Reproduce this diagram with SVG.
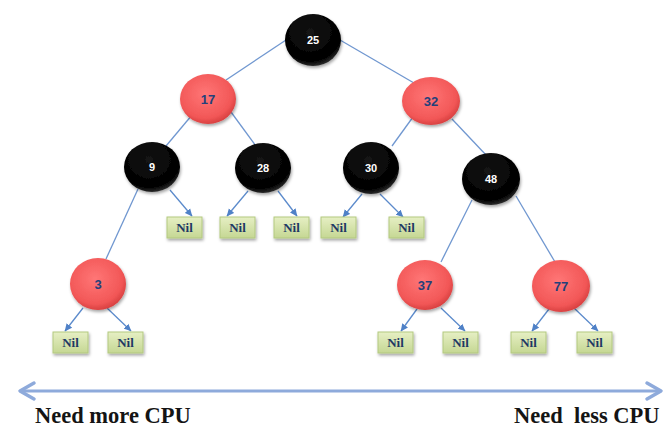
<svg xmlns="http://www.w3.org/2000/svg" width="667" height="428" viewBox="0 0 667 428">
<defs>
<radialGradient id="gRed" cx="45%" cy="40%" r="60%">
<stop offset="0" stop-color="#ff7676"/>
<stop offset="0.8" stop-color="#f25757"/>
<stop offset="1" stop-color="#d94141"/>
</radialGradient>
<radialGradient id="gBlack" cx="45%" cy="35%" r="65%">
<stop offset="0" stop-color="#141414"/>
<stop offset="0.85" stop-color="#000"/>
<stop offset="1" stop-color="#2a2a2a"/>
</radialGradient>
<linearGradient id="gNil" x1="0" y1="0" x2="0" y2="1">
<stop offset="0" stop-color="#e6efc4"/>
<stop offset="1" stop-color="#c5d793"/>
</linearGradient>
<filter id="sh" x="-30%" y="-30%" width="160%" height="170%">
<feDropShadow dx="1" dy="2" stdDeviation="1.5" flood-color="#000" flood-opacity="0.35"/>
</filter>
<marker id="ah" markerWidth="8" markerHeight="8" refX="7" refY="4" orient="auto" markerUnits="userSpaceOnUse">
<path d="M0,0.5 L7.5,4 L0,7.5 Z" fill="#4f81c7"/>
</marker>
</defs>
<style>
.edge{stroke:#7097d0;stroke-width:1.3;fill:none}
.arr{stroke:#5b8acb;stroke-width:1.3;fill:none;marker-end:url(#ah)}
.red{fill:url(#gRed);filter:url(#sh)}
.blk{fill:url(#gBlack);filter:url(#sh)}
.nil rect{fill:url(#gNil);stroke:#b3c980;stroke-width:1;filter:url(#sh)}
.tw{font-family:"Liberation Sans",Arial,sans-serif;font-weight:bold;font-size:11px;fill:#fff;text-anchor:middle}
.tr{font-family:"Liberation Sans",Arial,sans-serif;font-weight:bold;font-size:13px;fill:#24407a;text-anchor:middle}
.tn{font-family:"Liberation Serif","Times New Roman",serif;font-weight:bold;font-size:13px;fill:#1f3864;text-anchor:middle}
.big{font-family:"Liberation Serif","Times New Roman",serif;font-weight:bold;font-size:22.5px;fill:#141414;white-space:pre}
</style>
<g id="connectors">
<line class="edge" x1="286" y1="40" x2="226" y2="80"/>
<line class="edge" x1="340" y1="40" x2="414" y2="83"/>
<line class="edge" x1="192" y1="115" x2="166" y2="146"/>
<line class="edge" x1="231" y1="112" x2="256" y2="146"/>
<line class="edge" x1="413" y1="117" x2="392" y2="146"/>
<line class="edge" x1="452" y1="119" x2="486" y2="155"/>
<line class="edge" x1="138" y1="189" x2="106" y2="259"/>
<line class="edge" x1="472" y1="200" x2="441" y2="262"/>
<line class="edge" x1="516" y1="196" x2="555" y2="262"/>
<line class="arr" x1="170" y1="190" x2="192" y2="216"/>
<line class="arr" x1="248" y1="191" x2="227" y2="216"/>
<line class="arr" x1="278" y1="191" x2="297" y2="216"/>
<line class="arr" x1="362" y1="194" x2="343" y2="217"/>
<line class="arr" x1="380" y1="194" x2="403" y2="217"/>
<line class="arr" x1="83" y1="308" x2="65" y2="331"/>
<line class="arr" x1="107" y1="308" x2="131" y2="331"/>
<line class="arr" x1="417" y1="309" x2="401" y2="331"/>
<line class="arr" x1="441" y1="308" x2="465" y2="331"/>
<line class="arr" x1="549" y1="309" x2="532" y2="331"/>
<line class="arr" x1="574" y1="308" x2="598" y2="331"/>
</g>
<g id="n25"><ellipse class="blk" cx="313" cy="40" rx="28" ry="26"/><text class="tw" x="313" y="44">25</text></g>
<g id="n17"><ellipse class="red" cx="208" cy="99" rx="28" ry="25"/><text class="tr" x="208" y="104">17</text></g>
<g id="n32"><ellipse class="red" cx="431" cy="101" rx="29" ry="24"/><text class="tr" x="431" y="106">32</text></g>
<g id="n9"><ellipse class="blk" cx="152" cy="167" rx="28" ry="25"/><text class="tw" x="152" y="171">9</text></g>
<g id="n28"><ellipse class="blk" cx="263" cy="168" rx="28" ry="25"/><text class="tw" x="263" y="172">28</text></g>
<g id="n30"><ellipse class="blk" cx="371" cy="168" rx="28" ry="26"/><text class="tw" x="371" y="172">30</text></g>
<g id="n48"><ellipse class="blk" cx="491" cy="179" rx="29" ry="26"/><text class="tw" x="491" y="183">48</text></g>
<g id="n3"><ellipse class="red" cx="98" cy="284" rx="28" ry="26"/><text class="tr" x="98" y="289">3</text></g>
<g id="n37"><ellipse class="red" cx="425" cy="285" rx="28" ry="25"/><text class="tr" x="425" y="290">37</text></g>
<g id="n77"><ellipse class="red" cx="561" cy="286" rx="29" ry="26"/><text class="tr" x="561" y="291">77</text></g>
<g id="nil1" class="nil"><rect x="167" y="217" width="35" height="21"/><text class="tn" x="184.5" y="232">Nil</text></g>
<g id="nil2" class="nil"><rect x="220" y="217" width="35" height="21"/><text class="tn" x="237.5" y="232">Nil</text></g>
<g id="nil3" class="nil"><rect x="274" y="217" width="35" height="21"/><text class="tn" x="291.5" y="232">Nil</text></g>
<g id="nil4" class="nil"><rect x="321" y="217" width="35" height="21"/><text class="tn" x="338.5" y="232">Nil</text></g>
<g id="nil5" class="nil"><rect x="389" y="217" width="35" height="21"/><text class="tn" x="406.5" y="232">Nil</text></g>
<g id="nil6" class="nil"><rect x="53" y="332" width="35" height="21"/><text class="tn" x="70.5" y="347">Nil</text></g>
<g id="nil7" class="nil"><rect x="108" y="332" width="35" height="21"/><text class="tn" x="125.5" y="347">Nil</text></g>
<g id="nil8" class="nil"><rect x="378" y="332" width="35" height="21"/><text class="tn" x="395.5" y="347">Nil</text></g>
<g id="nil9" class="nil"><rect x="443" y="332" width="35" height="21"/><text class="tn" x="460.5" y="347">Nil</text></g>
<g id="nil10" class="nil"><rect x="511" y="332" width="35" height="21"/><text class="tn" x="528.5" y="347">Nil</text></g>
<g id="nil11" class="nil"><rect x="577" y="332" width="35" height="21"/><text class="tn" x="594.5" y="347">Nil</text></g>
<g id="cpu-axis">
<line x1="20" y1="391" x2="661" y2="391" stroke="#8eaadb" stroke-width="3"/>
<polyline points="34,383 20,391 34,399" fill="none" stroke="#8eaadb" stroke-width="3.5" stroke-linejoin="round" stroke-linecap="round"/>
<polyline points="647,383 661,391 647,399" fill="none" stroke="#8eaadb" stroke-width="3.5" stroke-linejoin="round" stroke-linecap="round"/>
<text class="big" x="35" y="423">Need more CPU</text>
<text class="big" x="514" y="423">Need  less CPU</text>
</g>
</svg>
